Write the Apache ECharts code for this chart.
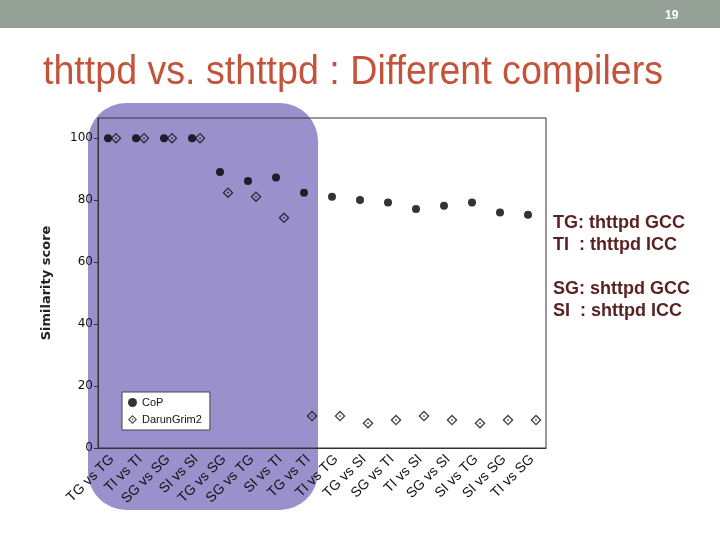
<!DOCTYPE html>
<html>
<head>
<meta charset="utf-8">
<script src="https://cdn.jsdelivr.net/npm/echarts@6/dist/echarts.min.js"></script>
<style>
html,body{margin:0;padding:0;background:#fff;}
#c{width:720px;height:540px;}
</style>
</head>
<body>
<div id="c"></div>
<script>
const categories = ['TG vs TG','TI vs TI','SG vs SG','SI vs SI','TG vs SG','SG vs TG','SI vs TI','TG vs TI',
  'TI vs TG','TG vs SI','SG vs TI','TI vs SI','SG vs SI','SI vs TG','SI vs SG','TI vs SG'];
const copValues = [100,100,100,100,89.1,86.2,87.3,82.4,81.1,80.0,79.2,77.1,78.2,79.2,76.0,75.3];
const darunValues = [100,100,100,100,82.4,81.1,74.3,10.3,10.3,8.0,9.0,10.3,9.0,8.0,9.0,9.0];
const seriesNames = ['CoP','DarunGrim2'];
const noteLines = ['TG: thttpd GCC','TI  : thttpd ICC','','SG: shttpd GCC','SI  : shttpd ICC'];
const titleText = 'thttpd vs. sthttpd : Different compilers';
const pageNumber = '19';

const diamondPath = 'path://M0,-10 L10,0 L0,10 L-10,0 Z M0,-6.6 L-6.6,0 L0,6.6 L6.6,0 Z M0,-2 L2,0 L0,2 L-2,0 Z';

const chart = echarts.init(document.getElementById('c'), null, {renderer:'canvas'});

const noteGraphics = noteLines.map((t, i) => ({
  type:'text', left:553, top: 214 + i*22, z:10,
  style:{text:t, fill:'#5a2222', font:'bold 18px "Liberation Sans", Arial, sans-serif'}
})).filter(g => g.style.text !== '');

chart.setOption({
  backgroundColor:'#ffffff',
  animation:false,
  graphic:[
    {type:'rect', shape:{x:0,y:0,width:720,height:28}, style:{fill:'#95a097'}, z:-20},
    {type:'text', left:665, top:10, style:{text:pageNumber, fill:'#ffffff', font:'bold 12px "Liberation Sans", Arial, sans-serif'}},
    {type:'text', x:43, y:53, scaleX:0.94, style:{text:titleText, fill:'#c4533b', font:'40px "Liberation Sans", Arial, sans-serif'}},
    {type:'rect', shape:{x:88,y:103,width:230,height:407,r:38}, style:{fill:'#9a91cc'}, z:-10},
    ...noteGraphics
  ],
  grid:{left:98, right:174, top:118, bottom:92, show:true, borderColor:'#333', borderWidth:1, backgroundColor:'transparent'},
  legend:{
    orient:'vertical', left:122, top:392,
    backgroundColor:'#ffffff', borderColor:'#444', borderWidth:1, borderRadius:0,
    padding:[5,8,5,6], itemGap:6, itemWidth:9, itemHeight:9,
    textStyle:{fontSize:11, color:'#111', fontFamily:'"Liberation Sans", Arial, sans-serif'},
    data:[{name:seriesNames[0], icon:'circle'}, {name:seriesNames[1], icon:diamondPath}]
  },
  xAxis:{
    type:'category', data:categories, boundaryGap:true,
    axisLine:{show:true, lineStyle:{color:'#333', width:1}},
    axisTick:{show:false},
    axisLabel:{rotate:45, interval:0, margin:9, fontSize:14, color:'#111', fontFamily:'"Liberation Sans", Arial, sans-serif'},
    splitLine:{show:false}
  },
  yAxis:{
    type:'value', min:0, max:106.5, interval:20,
    name:'Similarity score', nameLocation:'middle', nameGap:45,
    nameTextStyle:{fontSize:13, fontWeight:'bold', color:'#222', fontFamily:'"DejaVu Sans", Verdana, sans-serif'},
    axisLine:{show:true, lineStyle:{color:'#333', width:1}},
    axisTick:{show:true, length:4, lineStyle:{color:'#333'}},
    axisLabel:{showMaxLabel:false, fontSize:12, color:'#111', margin:5, fontFamily:'"DejaVu Sans", Verdana, sans-serif'},
    splitLine:{show:false}
  },
  series:[
    {name:seriesNames[0], type:'scatter', data:copValues, symbol:'circle', symbolSize:8, symbolOffset:[-4,0],
      itemStyle:{color:'#000'}, z:5},
    {name:seriesNames[1], type:'scatter', data:darunValues, symbol:diamondPath, symbolSize:11, symbolOffset:[4,0],
      itemStyle:{color:'#111'}, z:5}
  ]
});
</script>
</body>
</html>
